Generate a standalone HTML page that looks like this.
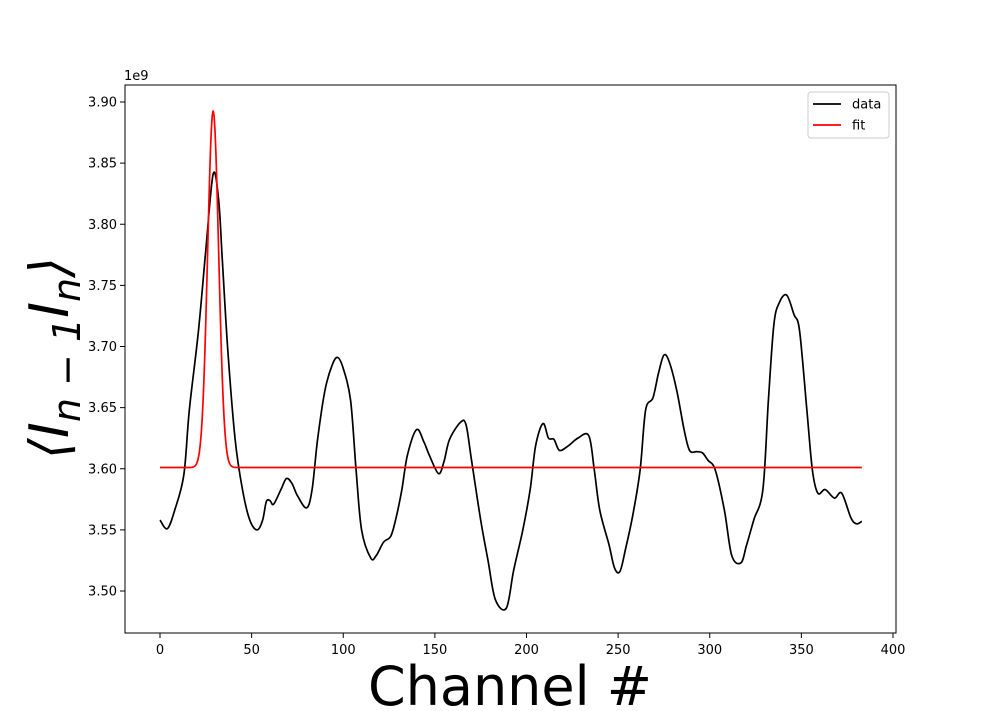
<!DOCTYPE html>
<html><head><meta charset="utf-8"><style>
body{margin:0;background:#fff;}
svg{display:block;font-family:"DejaVu Sans","Liberation Sans",sans-serif;}
</style></head><body>
<svg id="chart" width="996" height="711">
<rect x="0" y="0" width="996" height="711" fill="#fff"/>
<g id="plot"></g>
</svg>
<script>
const channels=[0,4,8,13,16,21,25,29,32,34,37,41,45,49,53,56,58,60,62,66,69,72,75,80,83,86,90,94,97,100,104,107,110,115,118,122,126,129,132,135,140,144,147,152,155,158,164,167,170,175,179,183,189,193,198,202,205,209,212,215,218,223,228,234,237,240,245,248,251,254,258,262,265,269,272,275,278,282,286,289,293,296,299,303,308,312,317,320,324,329,332,335,338,342,346,349,353,356,359,363,368,372,377,380,383];
const values=[3.558,3.551,3.566,3.595,3.648,3.713,3.779,3.841,3.820,3.771,3.697,3.624,3.583,3.558,3.550,3.558,3.573,3.574,3.571,3.583,3.592,3.588,3.578,3.568,3.583,3.624,3.664,3.685,3.691,3.682,3.656,3.599,3.550,3.527,3.529,3.540,3.545,3.561,3.583,3.611,3.632,3.622,3.611,3.596,3.606,3.624,3.638,3.636,3.607,3.558,3.525,3.493,3.486,3.517,3.550,3.583,3.619,3.637,3.625,3.624,3.615,3.619,3.625,3.627,3.599,3.566,3.538,3.519,3.516,3.534,3.562,3.599,3.648,3.658,3.678,3.693,3.687,3.664,3.632,3.615,3.614,3.613,3.607,3.599,3.566,3.529,3.523,3.537,3.558,3.583,3.656,3.718,3.736,3.742,3.726,3.713,3.648,3.599,3.580,3.583,3.576,3.580,3.560,3.555,3.557];
const fitBaseline=3.601, fitAmplitude=0.292, fitCenter=29.0, fitSigma=3.0;
const xTicks=[0,50,100,150,200,250,300,350,400];
const yTicks=[3.50,3.55,3.60,3.65,3.70,3.75,3.80,3.85,3.90];

const L=125,R=896,T=85,B=633;
const xs=v=>160+v*(733/400);
const ys=v=>591-(v-3.5)*(489/0.4);
const NS="http://www.w3.org/2000/svg";
const svg=document.getElementById('chart');
function mk(tag,attrs,parent){const e=document.createElementNS(NS,tag);for(const k in attrs)e.setAttribute(k,attrs[k]);(parent||svg).appendChild(e);return e;}

// ticks
xTicks.forEach(t=>{
  const g=mk('g',{});
  
  
  mk('line',{x1:xs(t),x2:xs(t),y1:B,y2:B+5,stroke:'#000','stroke-width':1},g);
  const tx=mk('text',{x:xs(t),y:B+21,'text-anchor':'middle','font-size':13},g);tx.textContent=t;
});
yTicks.forEach(t=>{
  const g=mk('g',{});
  
  
  mk('line',{x1:L-5,x2:L,y1:ys(t),y2:ys(t),stroke:'#000','stroke-width':1},g);
  const tx=mk('text',{x:L-8,y:ys(t)+4.5,'text-anchor':'end','font-size':13},g);tx.textContent=t.toFixed(2);
});

// data line (Catmull-Rom)
function smooth(pts){let d=`M${pts[0][0]},${pts[0][1]}`;for(let i=0;i<pts.length-1;i++){const p0=pts[i-1]||pts[i],p1=pts[i],p2=pts[i+1],p3=pts[i+2]||p2;
d+=` C${p1[0]+(p2[0]-p0[0])/6},${p1[1]+(p2[1]-p0[1])/6} ${p2[0]-(p3[0]-p1[0])/6},${p2[1]-(p3[1]-p1[1])/6} ${p2[0]},${p2[1]}`;}return d;}
const dpts=channels.map((c,i)=>[xs(c),ys(values[i])]);
const dl=mk('path',{d:smooth(dpts),fill:'none',stroke:'#000','stroke-width':1.7});



const fpts=[];for(let c=0;c<=383;c+=0.5){fpts.push(xs(c).toFixed(2)+','+ys(fitBaseline+fitAmplitude*Math.exp(-((c-fitCenter)**2)/(2*fitSigma**2))).toFixed(2));}
const fl=mk('polyline',{points:fpts.join(' '),fill:'none',stroke:'#f00','stroke-width':1.7});



const fr=mk('rect',{x:L,y:T,width:R-L,height:B-T,fill:'none',stroke:'#000','stroke-width':1});



const off=mk('text',{x:124,y:80,'font-size':13});off.textContent='1e9';



const xl=mk('text',{x:510,y:705,'text-anchor':'middle','font-size':54});xl.textContent='Channel #';



const yl=mk('text',{x:0,y:0,'text-anchor':'middle','font-size':54,'font-style':'italic',transform:'translate(68,358) rotate(-90)'});
yl.innerHTML='⟨<tspan>I</tspan><tspan font-size="38" dy="12">n − 1</tspan><tspan dy="-12">I</tspan><tspan font-size="38" dy="12">n</tspan><tspan dy="-12">⟩</tspan>';



// legend
const lg=mk('g',{});


mk('rect',{x:808,y:92,width:81,height:46,rx:3,fill:'#fff',stroke:'#ccc'},lg);
const e1=mk('g',{},lg);


mk('line',{x1:813,x2:841,y1:104,y2:104,stroke:'#000','stroke-width':1.7},e1);
let t1=mk('text',{x:852,y:108.5,'font-size':13},e1);t1.textContent='data';
const e2=mk('g',{},lg);


mk('line',{x1:813,x2:841,y1:125,y2:125,stroke:'#f00','stroke-width':1.7},e2);
let t2=mk('text',{x:852,y:129.5,'font-size':13},e2);t2.textContent='fit';
</script>
</body></html>
